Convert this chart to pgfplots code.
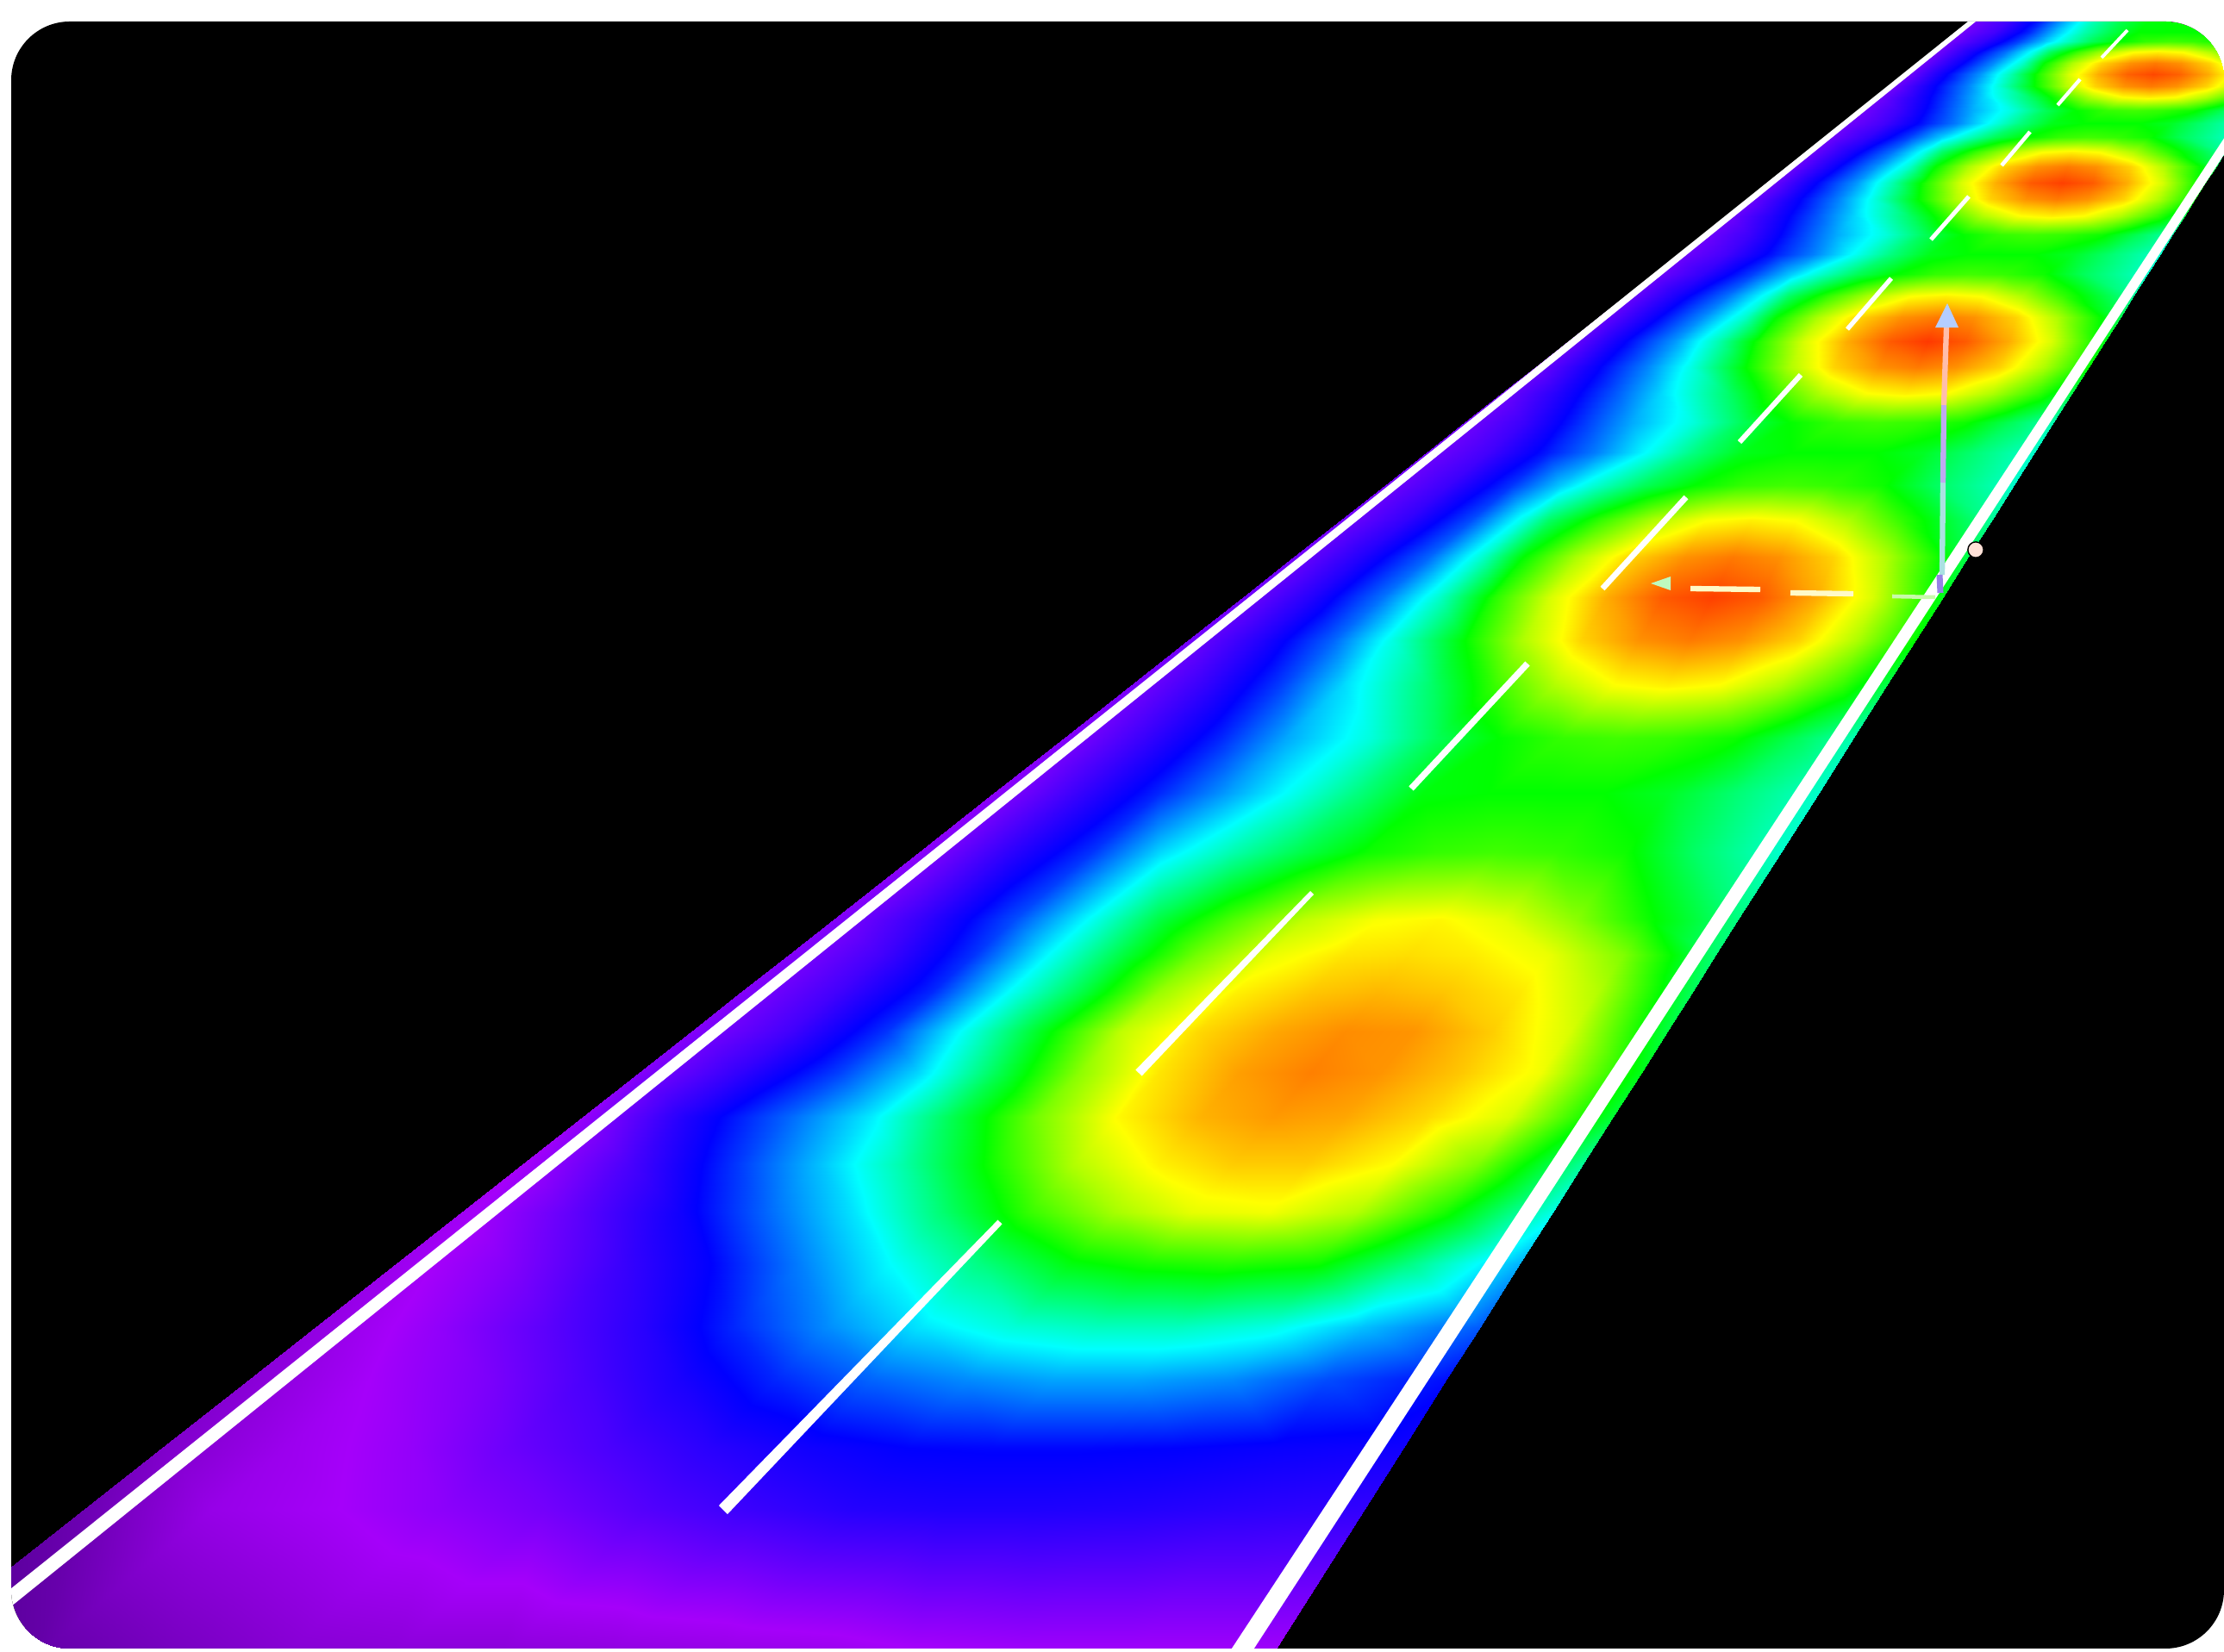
\documentclass[border=0pt]{standalone}
\usepackage{pgfplots}
\pgfplotsset{compat=1.18}

\pgfplotsset{
  colormap={road}{rgb255=(70,0,130) rgb255=(165,0,250) rgb255=(0,0,255) rgb255=(0,255,255) rgb255=(0,255,0) rgb255=(255,255,0) rgb255=(255,0,0)},
}

\begin{document}
\begin{tikzpicture}
\useasboundingbox (0,0) rectangle (25.8,19.17);
\fill[white] (0,0) rectangle (25.8,19.17);
\clip[rounded corners=0.68cm] (0.13,0.04) rectangle (25.8,18.92);
\fill[black] (0,0) rectangle (25.8,19.17);
\begin{axis}[
  at={(0,0)}, anchor=south west,
  width=25.8cm, height=19.17cm, scale only axis,
  xmin=0, xmax=2580, ymin=0, ymax=1917,
  y dir=reverse, hide axis,
  colormap name=road, point meta min=-1, point meta max=5,
]
% road surface: u = percent across the road, y = image row, c = colour level
\addplot[surf, shader=interp, mesh/cols=13, point meta=explicit]
  table[row sep=\\, x expr={2290-1.27*(\thisrow{y}-25)+\thisrow{u}/100*(387+0.636*(\thisrow{y}-25))}, y=y, meta=c] {
u y c\\
0 1923 -1\\10 1923 -0.7\\20 1923 -0.5\\28 1923 -0.35\\36 1923 -0.3\\44 1923 -0.3\\52 1923 -0.25\\60 1923 -0.2\\67 1923 -0.15\\74 1923 -0.05\\82 1923 0\\90 1923 0\\100 1923 0\\
0 1751 -0.6\\10 1751 -0.15\\20 1751 0\\28 1751 0.15\\36 1751 0.3\\44 1751 0.5\\52 1751 0.65\\60 1751 0.78\\67 1751 0.82\\74 1751 0.82\\82 1751 0.8\\90 1751 0.75\\100 1751 0.7\\
0 1680 -0.4\\10 1680 -0.1\\20 1680 0.1\\28 1680 0.35\\36 1680 0.55\\44 1680 0.75\\52 1680 0.9\\60 1680 1\\67 1680 1.02\\74 1680 1.02\\82 1680 1\\90 1680 0.95\\100 1680 0.9\\
0 1600 -0.3\\10 1600 0\\20 1600 0.25\\28 1600 0.55\\36 1600 0.85\\44 1600 1.15\\52 1600 1.4\\60 1600 1.55\\67 1600 1.65\\74 1600 1.65\\82 1600 1.55\\90 1600 1.3\\100 1600 1.05\\
0 1540 -0.2\\10 1540 0.1\\20 1540 0.45\\28 1540 0.75\\36 1540 1.15\\44 1540 1.55\\52 1540 1.9\\60 1540 2.15\\67 1540 2.25\\74 1540 2.25\\82 1540 2.1\\90 1540 1.75\\100 1540 1.35\\
0 1466 -0.1\\10 1466 0.2\\20 1466 0.65\\28 1466 1\\36 1466 1.5\\44 1466 2\\52 1466 2.5\\60 1466 2.95\\67 1466 3.1\\74 1466 3.15\\82 1466 3.05\\90 1466 2.5\\100 1466 1.7\\
0 1407 -0.05\\10 1407 0.4\\20 1407 0.9\\28 1407 1.4\\36 1407 1.9\\44 1407 2.55\\52 1407 3.2\\60 1407 3.65\\67 1407 3.9\\74 1407 3.95\\82 1407 3.7\\90 1407 3.1\\100 1407 2.1\\
0 1351 0\\10 1351 0.55\\20 1351 1.2\\28 1351 1.75\\36 1351 2.35\\44 1351 3.05\\52 1351 3.7\\60 1351 4.05\\67 1351 4.2\\74 1351 4.2\\82 1351 4\\90 1351 3.5\\100 1351 2.4\\
0 1296 0.1\\10 1296 0.8\\20 1296 1.4\\28 1296 1.93\\36 1296 2.7\\44 1296 3.45\\52 1296 4.02\\60 1296 4.3\\67 1296 4.4\\74 1296 4.35\\82 1296 4.15\\90 1296 3.85\\100 1296 2.8\\
0 1245 0.2\\10 1245 0.7\\20 1245 1.25\\28 1245 1.85\\36 1245 2.7\\44 1245 3.55\\52 1245 4.1\\60 1245 4.38\\67 1245 4.5\\74 1245 4.42\\82 1245 4.22\\90 1245 3.95\\100 1245 2.9\\
0 1197 0.2\\10 1197 0.6\\20 1197 1.2\\28 1197 2.05\\36 1197 2.9\\44 1197 3.75\\52 1197 4.15\\60 1197 4.35\\67 1197 4.45\\74 1197 4.42\\82 1197 4.2\\90 1197 3.85\\100 1197 2.75\\
0 1150 0.2\\10 1150 0.6\\20 1150 1.15\\28 1150 2\\36 1150 2.75\\44 1150 3.6\\52 1150 4.05\\60 1150 4.22\\67 1150 4.28\\74 1150 4.22\\82 1150 4.08\\90 1150 3.7\\100 1150 2.65\\
0 1108 0.2\\10 1108 0.6\\20 1108 1.2\\28 1108 2\\36 1108 2.75\\44 1108 3.45\\52 1108 3.92\\60 1108 4.1\\67 1108 4.13\\74 1108 4.07\\82 1108 3.92\\90 1108 3.5\\100 1108 2.55\\
0 1067 0.2\\10 1067 0.7\\20 1067 1.3\\28 1067 2\\36 1067 2.75\\44 1067 3.3\\52 1067 3.75\\60 1067 3.98\\67 1067 4.03\\74 1067 3.9\\82 1067 3.55\\90 1067 3.05\\100 1067 2.5\\
0 989 0.15\\10 989 0.7\\20 989 1.2\\28 989 1.85\\36 989 2.3\\44 989 2.7\\52 989 3.05\\60 989 3.2\\67 989 3.25\\74 989 3.2\\82 989 3.05\\90 989 2.6\\100 989 2.2\\
0 920 0.15\\10 920 0.65\\20 920 1.15\\28 920 1.6\\36 920 2.05\\44 920 2.5\\52 920 2.95\\60 920 3\\67 920 3\\74 920 3\\82 920 2.85\\90 920 2.55\\100 920 2.2\\
0 856 0.2\\10 856 0.65\\20 856 1.15\\28 856 1.65\\39 856 2.15\\47 856 2.65\\55 856 3\\63 856 3.2\\70 856 3.25\\77 856 3.2\\85 856 3.05\\93 856 2.65\\100 856 2.3\\
0 796 0.25\\10 796 0.7\\20 796 1.25\\28 796 1.85\\40 796 2.6\\48 796 3.2\\56 796 3.68\\64 796 3.98\\71 796 4.05\\78 796 3.98\\86 796 3.68\\94 796 3.2\\100 796 2.7\\
0 743 0.3\\10 743 0.8\\20 743 1.4\\28 743 2.1\\38 743 3\\46 743 3.68\\54 743 4.17\\62 743 4.43\\69 743 4.52\\76 743 4.43\\84 743 4.17\\92 743 3.68\\100 743 3\\
0 693 0.3\\10 693 0.8\\20 693 1.45\\28 693 2.2\\36 693 3.15\\44 693 3.85\\52 693 4.33\\60 693 4.65\\67 693 4.75\\74 693 4.65\\82 693 4.33\\90 693 3.85\\100 693 2.9\\
0 646 0.3\\10 646 0.8\\20 646 1.4\\28 646 2.2\\34 646 3\\42 646 3.68\\50 646 4.17\\58 646 4.43\\65 646 4.52\\72 646 4.43\\80 646 4.17\\88 646 3.68\\100 646 2.7\\
0 603 0.3\\10 603 0.7\\20 603 1.3\\28 603 2.1\\32 603 2.6\\40 603 3.2\\48 603 3.68\\56 603 3.98\\63 603 4.05\\70 603 3.98\\78 603 3.68\\86 603 3.2\\100 603 2.4\\
0 563 0.3\\10 563 0.65\\20 563 1.2\\28 563 1.8\\33 563 2.15\\41 563 2.65\\49 563 3\\57 563 3.2\\64 563 3.25\\71 563 3.2\\79 563 3.05\\87 563 2.65\\100 563 2.2\\
0 525 0.3\\10 525 0.6\\20 525 1.1\\28 525 1.5\\36 525 2\\44 525 2.5\\52 525 2.9\\60 525 3\\67 525 3\\74 525 3\\82 525 2.85\\90 525 2.55\\100 525 2.2\\
0 490 0.3\\10 490 0.65\\20 490 1.2\\28 490 1.65\\39 490 2.15\\47 490 2.65\\55 490 3\\63 490 3.2\\70 490 3.25\\77 490 3.2\\85 490 3.05\\93 490 2.65\\100 490 2.3\\
0 457 0.3\\10 457 0.8\\20 457 1.35\\28 457 1.85\\40 457 2.6\\48 457 3.2\\56 457 3.68\\64 457 3.98\\71 457 4.05\\78 457 3.98\\86 457 3.68\\94 457 3.2\\100 457 2.7\\
0 426 0.3\\10 426 0.9\\20 426 1.5\\28 426 2.1\\38 426 3\\46 426 3.68\\54 426 4.17\\62 426 4.43\\69 426 4.52\\76 426 4.43\\84 426 4.17\\92 426 3.68\\100 426 3\\
0 396 0.3\\10 396 0.95\\20 396 1.6\\28 396 2.3\\36 396 3.15\\44 396 3.85\\52 396 4.33\\60 396 4.65\\67 396 4.78\\74 396 4.65\\82 396 4.33\\90 396 3.85\\100 396 2.9\\
0 368 0.3\\10 368 0.9\\20 368 1.55\\28 368 2.2\\34 368 3\\42 368 3.68\\50 368 4.17\\58 368 4.43\\65 368 4.52\\72 368 4.43\\80 368 4.17\\88 368 3.68\\100 368 2.7\\
0 343 0.3\\10 343 0.85\\20 343 1.45\\28 343 2.1\\32 343 2.6\\40 343 3.2\\48 343 3.68\\56 343 3.98\\63 343 4.05\\70 343 3.98\\78 343 3.68\\86 343 3.2\\100 343 2.4\\
0 318 0.3\\10 318 0.7\\20 318 1.25\\28 318 1.8\\33 318 2.15\\41 318 2.65\\49 318 3\\57 318 3.2\\64 318 3.25\\71 318 3.2\\79 318 3.05\\87 318 2.65\\100 318 2.2\\
0 295 0.3\\10 295 0.6\\20 295 1.1\\28 295 1.5\\36 295 2\\44 295 2.5\\52 295 2.9\\60 295 3\\67 295 3\\74 295 3\\82 295 2.85\\90 295 2.55\\100 295 2.2\\
0 272 0.3\\10 272 0.65\\20 272 1.2\\28 272 1.65\\39 272 2.15\\47 272 2.65\\55 272 3\\63 272 3.2\\70 272 3.25\\77 272 3.2\\85 272 3.05\\93 272 2.65\\100 272 2.3\\
0 251 0.3\\10 251 0.8\\20 251 1.35\\28 251 1.85\\40 251 2.6\\48 251 3.2\\56 251 3.68\\64 251 3.98\\71 251 4.05\\78 251 3.98\\86 251 3.68\\94 251 3.2\\100 251 2.7\\
0 231 0.3\\10 231 0.9\\20 231 1.5\\28 231 2.1\\38 231 3\\46 231 3.68\\54 231 4.17\\62 231 4.43\\69 231 4.52\\76 231 4.43\\84 231 4.17\\92 231 3.68\\100 231 3\\
0 212 0.3\\10 212 0.95\\20 212 1.6\\28 212 2.3\\36 212 3.15\\44 212 3.85\\52 212 4.33\\60 212 4.65\\67 212 4.75\\74 212 4.65\\82 212 4.33\\90 212 3.85\\100 212 2.9\\
0 193 0.3\\10 193 0.9\\20 193 1.55\\28 193 2.2\\34 193 3\\42 193 3.68\\50 193 4.17\\58 193 4.43\\65 193 4.52\\72 193 4.43\\80 193 4.17\\88 193 3.68\\100 193 2.7\\
0 176 0.3\\10 176 0.85\\20 176 1.45\\28 176 2.1\\32 176 2.6\\40 176 3.2\\48 176 3.68\\56 176 3.98\\63 176 4.05\\70 176 3.98\\78 176 3.68\\86 176 3.2\\100 176 2.4\\
0 159 0.3\\10 159 0.7\\20 159 1.25\\28 159 1.8\\33 159 2.15\\41 159 2.65\\49 159 3\\57 159 3.2\\64 159 3.25\\71 159 3.2\\79 159 3.05\\87 159 2.65\\100 159 2.2\\
0 143 0.3\\10 143 0.6\\20 143 1.1\\28 143 1.5\\36 143 2\\44 143 2.5\\52 143 2.9\\60 143 3\\67 143 3\\74 143 3\\82 143 2.85\\90 143 2.55\\100 143 2.2\\
0 128 0.3\\10 128 0.65\\20 128 1.2\\28 128 1.65\\39 128 2.15\\47 128 2.65\\55 128 3\\63 128 3.2\\70 128 3.25\\77 128 3.2\\85 128 3.05\\93 128 2.65\\100 128 2.3\\
0 113 0.3\\10 113 0.8\\20 113 1.35\\28 113 1.85\\40 113 2.6\\48 113 3.2\\56 113 3.68\\64 113 3.98\\71 113 4.05\\78 113 3.98\\86 113 3.68\\94 113 3.2\\100 113 2.7\\
0 100 0.3\\10 100 0.9\\20 100 1.5\\28 100 2.1\\38 100 3\\46 100 3.68\\54 100 4.17\\62 100 4.43\\69 100 4.52\\76 100 4.43\\84 100 4.17\\92 100 3.68\\100 100 3\\
0 86 0.3\\10 86 0.95\\20 86 1.6\\28 86 2.3\\36 86 3.15\\44 86 3.85\\52 86 4.33\\60 86 4.62\\67 86 4.72\\74 86 4.62\\82 86 4.33\\90 86 3.85\\100 86 2.9\\
0 73 0.3\\10 73 0.9\\20 73 1.55\\28 73 2.2\\34 73 3\\42 73 3.68\\50 73 4.17\\58 73 4.43\\65 73 4.52\\72 73 4.43\\80 73 4.17\\88 73 3.68\\100 73 2.7\\
0 60 0.3\\10 60 0.85\\20 60 1.45\\28 60 2.1\\32 60 2.6\\40 60 3.2\\48 60 3.68\\56 60 3.98\\63 60 4.05\\70 60 3.98\\78 60 3.68\\86 60 3.2\\100 60 2.4\\
0 48 0.3\\10 48 0.7\\20 48 1.25\\28 48 1.8\\33 48 2.15\\41 48 2.65\\49 48 3\\57 48 3.2\\64 48 3.25\\71 48 3.2\\79 48 3.05\\87 48 2.65\\100 48 2.2\\
0 37 0.3\\10 37 0.6\\20 37 1.15\\28 37 1.75\\36 37 2.3\\44 37 2.7\\52 37 3\\60 37 3\\67 37 3\\74 37 3\\82 37 2.9\\90 37 2.6\\100 37 2.2\\
0 26 0.3\\10 26 0.6\\20 26 1.15\\28 26 1.75\\36 26 2.3\\44 26 2.7\\52 26 2.95\\60 26 3\\67 26 3.05\\74 26 3.05\\82 26 3\\90 26 2.8\\100 26 2.5\\
0 15 0.3\\10 15 0.6\\20 15 1.15\\28 15 1.75\\36 15 2.3\\44 15 2.7\\52 15 2.95\\60 15 3\\67 15 3.05\\74 15 3.05\\82 15 3\\90 15 2.8\\100 15 2.5\\
};
% road edge lines
\addplot[fill=white, draw=none] coordinates {(-13,1864) (13,1864) (2292,25) (2283,25)} --cycle;
\addplot[fill=white, draw=none] coordinates {(1421,1925) (1447,1925) (2612,130) (2600,130)} --cycle;
% lane dashes
\addplot[fill=white, draw=none] coordinates {(834,1747) (844,1757) (1162.5,1420.4) (1157.5,1415.6)} --cycle;
\addplot[fill=white, draw=none] coordinates {(1317.4,1241.5) (1324.6,1248.5) (1524,1038) (1520,1034)} --cycle;
\addplot[white, line width=2.1pt] coordinates {(1637,915) (1772,770)};
\addplot[white, line width=1.9pt] coordinates {(1859,683) (1956,577)};
\addplot[white, line width=1.7pt] coordinates {(2018,513) (2089,435)};
\addplot[white, line width=1.5pt] coordinates {(2143,382) (2194,323)};
\addplot[white, line width=1.4pt] coordinates {(2240,278) (2284,228)};
\addplot[white, line width=1.3pt] coordinates {(2322,192) (2355,153)};
\addplot[white, line width=1.2pt] coordinates {(2387,122) (2413,92)};
\addplot[white, line width=1.1pt] coordinates {(2438,67) (2468,35)};
% vertical arrow
\addplot[color={rgb,255:red,170;green,225;blue,225}, line width=1.8pt] coordinates {(2253,667) (2254,560)};
\addplot[color={rgb,255:red,190;green,170;blue,240}, line width=1.8pt] coordinates {(2254,560) (2255,470)};
\addplot[color={rgb,255:red,255;green,190;blue,170}, line width=1.8pt] coordinates {(2255,470) (2258,380)};
\addplot[fill={rgb,255:red,180;green,205;blue,255}, draw=none] coordinates {(2259,352) (2272,380) (2245,380)} --cycle;
% horizontal arrow
\addplot[color={rgb,255:red,255;green,250;blue,200}, line width=1.8pt] coordinates {(1961,683) (2042,684)};
\addplot[color={rgb,255:red,255;green,250;blue,200}, line width=1.8pt] coordinates {(2077,688) (2150,689)};
\addplot[color={rgb,255:red,200;green,250;blue,170}, line width=1.3pt] coordinates {(2195,692) (2245,693)};
\addplot[fill={rgb,255:red,190;green,250;blue,190}, draw=none] coordinates {(1915,677) (1938,669) (1938,685)} --cycle;
% origin marks
\addplot[only marks, mark=*, mark size=2.6pt, mark options={fill={rgb,255:red,255;green,225;blue,215}, draw=none}] coordinates {(2292,638)};
\addplot[color={rgb,255:red,150;green,130;blue,230}, line width=2pt] coordinates {(2250,667) (2251,688)};
\end{axis}
\end{tikzpicture}
\end{document}
